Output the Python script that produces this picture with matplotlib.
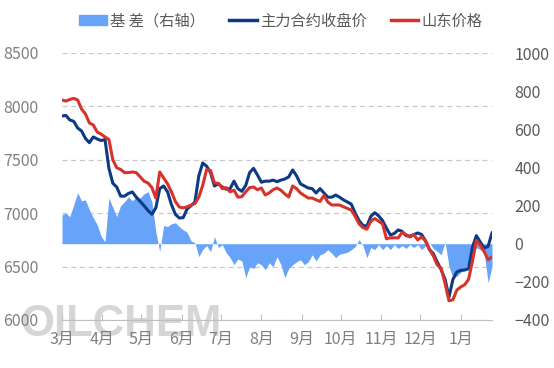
import matplotlib.pyplot as plt
import pandas as pd
from matplotlib.patches import Patch
from matplotlib.lines import Line2D

plt.rcParams['font.family'] = ['Noto Sans CJK SC', 'DejaVu Sans']

# sampled every 3 days, 2023-03-01 .. 2024-01-25
dates = pd.date_range('2023-03-01', periods=111, freq='3D')

# main contract close (left axis)
futures = [
    7910, 7915, 7873, 7860, 7798, 7770, 7700, 7660, 7714, 7695,
    7680, 7690, 7420, 7280, 7245, 7160, 7160, 7185, 7199, 7150,
    7110, 7070, 7025, 6990, 7050, 7230, 7255, 7200, 7080, 6990,
    6955, 6958, 7040, 7070, 7105, 7350, 7470, 7440, 7380, 7255,
    7275, 7245, 7225, 7230, 7300, 7230, 7205, 7260, 7380, 7420,
    7358, 7290, 7300, 7300, 7310, 7295, 7310, 7320, 7340, 7405,
    7350, 7275, 7255, 7236, 7230, 7189, 7230, 7190, 7150, 7150,
    7170, 7150, 7125, 7105, 7085, 7000, 6930, 6885, 6880, 6970,
    7005, 6975, 6930, 6860, 6796, 6810, 6843, 6830, 6790, 6785,
    6800, 6815, 6800, 6740, 6660, 6620, 6543, 6470, 6380, 6215,
    6380, 6450, 6465, 6468, 6480, 6680, 6790, 6730, 6674, 6690,
    6815,
]

# Shandong spot price (left axis)
spot = [
    8060, 8050, 8065, 8075, 8060, 7975, 7930, 7845, 7826, 7760,
    7740, 7714, 7690, 7500, 7425, 7410, 7380, 7380, 7386, 7380,
    7340, 7300, 7283, 7240, 7142, 7386, 7330, 7275, 7200, 7110,
    7058, 7050, 7060, 7075, 7090, 7150, 7260, 7410, 7400, 7283,
    7280, 7230, 7240, 7200, 7215, 7150, 7155, 7200, 7240, 7245,
    7220, 7236, 7170, 7190, 7220, 7236, 7215, 7180, 7152, 7255,
    7230, 7190, 7165, 7142, 7142, 7125, 7110, 7165, 7105, 7077,
    7077, 7077, 7060, 7045, 7030, 6970, 6900, 6865, 6850, 6925,
    6950, 6925, 6900, 6760, 6770, 6770, 6768, 6820, 6800, 6777,
    6800, 6750, 6777, 6740, 6660, 6600, 6515, 6485, 6340, 6180,
    6190, 6280, 6310, 6330, 6380, 6550, 6745, 6700, 6640, 6565,
    6590,
]

# basis (right axis)
basis = [
    152, 160, 142, 204, 267, 225, 230, 178, 136, 100,
    40, 10, 240, 190, 142, 200, 220, 246, 225, 246,
    240, 262, 273, 220, 63, -42, 95, 90, 105, 110,
    90, 73, 60, 15, 5, -68, -30, -10, -42, 37,
    -20, -5, -47, -73, -110, -80, -90, -178, -120, -130,
    -100, -110, -136, -100, -120, -68, -110, -178, -130, -110,
    -95, -84, -110, -95, -58, -90, -58, -50, -31, -50,
    -73, -55, -50, -45, -31, -16, 21, -10, -73, -20,
    -31, -5, -31, -10, -31, -5, -25, -10, -25, -5,
    -20, -5, -31, -10, 5, -25, -40, -58, 10, -120,
    -178, -170, -150, -136, -100, -58, -20, -31, -47, -205,
    -120,
]

month_ticks = pd.date_range('2023-03-01', '2024-01-01', freq='MS')
month_labels = ['3月', '4月', '5月', '6月', '7月', '8月', '9月', '10月', '11月', '12月', '1月']

c_basis = '#67a3f9'
c_fut = '#0c3a84'
c_spot = '#d7332b'

fig = plt.figure(figsize=(5.54, 3.68), dpi=100)
fig.patch.set_facecolor('white')

# watermark
fig.text(20 / 554, 1 - 336 / 368, 'OILCHEM', fontsize=31.5, fontweight='bold',
         family='Liberation Sans', color='#d6d6d6', zorder=-1)

ax = fig.add_axes([62 / 554, 1 - 320 / 368, 430 / 554, 267 / 368])
ax.patch.set_visible(False)
ax.set_ylim(6000, 8500)
ax.set_yticks(range(6000, 8501, 500))
ax.set_xlim(dates[0], dates[-1])
ax.set_xticks(month_ticks)
ax.set_xticklabels(month_labels)
ax.grid(axis='y', linestyle=(0, (4, 3)), color='#c8c8c8', linewidth=0.9)
ax.set_axisbelow(True)
for s in ['top', 'left', 'right']:
    ax.spines[s].set_visible(False)
ax.spines['bottom'].set_color('#bfbfbf')
ax.tick_params(axis='y', length=0, pad=17, labelsize=11.5, labelcolor='#7f7f7f')
ax.tick_params(axis='x', direction='in', length=4, color='#bfbfbf', pad=8,
               labelsize=11.5, labelcolor='#7f7f7f')

# basis on right axis
ax2 = ax.twinx()
ax2.patch.set_visible(False)
ax2.fill_between(dates, basis, 0, color=c_basis, linewidth=0)
ax2.set_ylim(-400, 1000)
ax2.set_yticks(range(-400, 1001, 200))
for s in ax2.spines.values():
    s.set_visible(False)
ax2.tick_params(axis='y', length=0, pad=16, labelsize=11.5, labelcolor='#595959')

# price lines on top
ax3 = ax.twinx()
ax3.patch.set_visible(False)
ax3.plot(dates, futures, color=c_fut, linewidth=2.2)
ax3.plot(dates, spot, color=c_spot, linewidth=2.2)
ax3.set_ylim(6000, 8500)
ax3.set_yticks([])
for s in ax3.spines.values():
    s.set_visible(False)

handles = [Patch(color=c_basis),
           Line2D([], [], color=c_fut, linewidth=2.5),
           Line2D([], [], color=c_spot, linewidth=2.5)]
labels = ['基 差（右轴）', '主力合约收盘价', '山东价格']
fig.legend(handles, labels, loc='center', bbox_to_anchor=(0.507, 1 - 21 / 368),
           ncol=3, frameon=False, fontsize=11, handlelength=1.8, handleheight=0.6,
           handletextpad=0.2, columnspacing=1.6, labelcolor='#595959')

fig.savefig('out.png', dpi=100)
